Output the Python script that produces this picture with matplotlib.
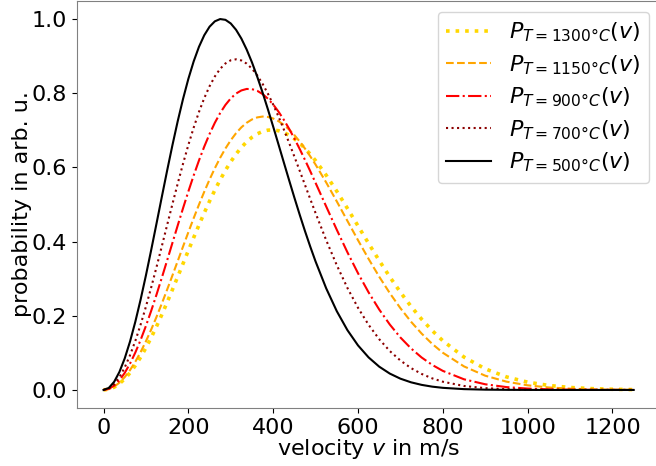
import matplotlib
matplotlib.use('Agg')
import matplotlib.pyplot as plt

# velocity grid in m/s (finer steps where the curves bend most)
velocity = [0, 12.5, 25, 37.5, 50, 62.5, 75, 87.5, 100, 112.5, 125, 137.5, 150, 162.5,
            175, 187.5, 200, 212.5, 225, 237.5, 250, 262.5, 275, 287.5, 300, 312.5,
            325, 337.5, 350, 362.5, 375, 387.5, 400, 412.5, 425, 437.5, 450, 462.5,
            475, 487.5, 500, 525, 550, 575, 600, 625, 650, 675, 700, 725, 750, 775,
            800, 850, 900, 950, 1000, 1050, 1100, 1150, 1200, 1250]

# probability (arb. u.), one list per oven temperature
p_1300 = [0.0, 0.0019, 0.0075, 0.0169, 0.0298, 0.0462, 0.0658, 0.0883, 0.1137, 0.1415,
          0.1714, 0.2031, 0.2363, 0.2705, 0.3054, 0.3406, 0.3758, 0.4105, 0.4445, 0.4774,
          0.5089, 0.5387, 0.5665, 0.5921, 0.6152, 0.6359, 0.6538, 0.6689, 0.6811, 0.6904,
          0.6968, 0.7003, 0.7009, 0.6988, 0.6940, 0.6867, 0.6770, 0.6652, 0.6512, 0.6354,
          0.6180, 0.5789, 0.5356, 0.4895, 0.4422, 0.3949, 0.3488, 0.3047, 0.2634, 0.2253,
          0.1907, 0.1598, 0.1326, 0.0886, 0.0569, 0.0352, 0.0210, 0.0121, 0.0067, 0.0036,
          0.0018, 0.0009]
p_1150 = [0.0, 0.0022, 0.0088, 0.0196, 0.0346, 0.0535, 0.0761, 0.1022, 0.1313, 0.1630,
          0.1971, 0.2331, 0.2705, 0.3088, 0.3477, 0.3866, 0.4252, 0.4629, 0.4994, 0.5343,
          0.5672, 0.5978, 0.6258, 0.6510, 0.6732, 0.6922, 0.7079, 0.7202, 0.7292, 0.7347,
          0.7370, 0.7359, 0.7317, 0.7246, 0.7146, 0.7020, 0.6870, 0.6698, 0.6506, 0.6297,
          0.6074, 0.5593, 0.5082, 0.4558, 0.4037, 0.3532, 0.3053, 0.2609, 0.2204, 0.1840,
          0.1520, 0.1241, 0.1003, 0.0634, 0.0384, 0.0224, 0.0125, 0.0067, 0.0035, 0.0017,
          0.0008, 0.0004]
p_900 = [0.0, 0.0029, 0.0117, 0.0261, 0.0460, 0.0711, 0.1009, 0.1349, 0.1727, 0.2137,
         0.2572, 0.3027, 0.3493, 0.3966, 0.4437, 0.4900, 0.5350, 0.5780, 0.6185, 0.6560,
         0.6900, 0.7203, 0.7465, 0.7685, 0.7860, 0.7990, 0.8074, 0.8114, 0.8109, 0.8063,
         0.7976, 0.7852, 0.7694, 0.7503, 0.7285, 0.7042, 0.6778, 0.6496, 0.6201, 0.5895,
         0.5581, 0.4946, 0.4317, 0.3712, 0.3147, 0.2630, 0.2168, 0.1763, 0.1414, 0.1120,
         0.0875, 0.0675, 0.0514, 0.0287, 0.0153, 0.0077, 0.0037, 0.0017, 0.0008, 0.0003,
         0.0001, 0.0]
p_700 = [0.0, 0.0039, 0.0155, 0.0345, 0.0607, 0.0935, 0.1322, 0.1763, 0.2247, 0.2768,
         0.3314, 0.3877, 0.4447, 0.5013, 0.5567, 0.6100, 0.6604, 0.7070, 0.7493, 0.7867,
         0.8187, 0.8451, 0.8657, 0.8802, 0.8887, 0.8913, 0.8882, 0.8797, 0.8661, 0.8478,
         0.8252, 0.7989, 0.7693, 0.7371, 0.7026, 0.6664, 0.6290, 0.5910, 0.5526, 0.5144,
         0.4766, 0.4037, 0.3362, 0.2751, 0.2215, 0.1755, 0.1368, 0.1049, 0.0793, 0.0589,
         0.0432, 0.0312, 0.0222, 0.0107, 0.0049, 0.0021, 0.0009, 0.0003, 0.0001, 0.0,
         0.0, 0.0]
p_500 = [0.0, 0.0055, 0.0218, 0.0486, 0.0851, 0.1306, 0.1840, 0.2439, 0.3090, 0.3779,
         0.4490, 0.5207, 0.5915, 0.6600, 0.7248, 0.7846, 0.8385, 0.8855, 0.9249, 0.9562,
         0.9792, 0.9937, 0.9998, 0.9977, 0.9879, 0.9708, 0.9472, 0.9176, 0.8830, 0.8441,
         0.8018, 0.7567, 0.7099, 0.6620, 0.6137, 0.5657, 0.5184, 0.4725, 0.4282, 0.3861,
         0.3462, 0.2739, 0.2123, 0.1613, 0.1201, 0.0877, 0.0628, 0.0441, 0.0304, 0.0206,
         0.0137, 0.0089, 0.0057, 0.0022, 0.0008, 0.0003, 0.0001, 0.0, 0.0, 0.0,
         0.0, 0.0]

if __name__ == '__main__':
    plt.rcParams['font.size'] = 16
    fig = plt.figure(figsize=(6.56, 4.66), dpi=100)
    ax = fig.add_axes([0.1174, 0.1234, 0.889, 0.8755])

    ax.plot(velocity, p_1300, ':', color='gold', lw=2.6, label=r'$P_{T=1300°C}(v)$')
    ax.plot(velocity, p_1150, '--', color='orange', lw=1.5, label=r'$P_{T=1150°C}(v)$')
    ax.plot(velocity, p_900, '-.', color='red', lw=1.5, label=r'$P_{T=900°C}(v)$')
    ax.plot(velocity, p_700, ':', color='darkred', lw=1.5, label=r'$P_{T=700°C}(v)$')
    ax.plot(velocity, p_500, '-', color='black', lw=1.5, label=r'$P_{T=500°C}(v)$')

    for s in ax.spines.values():
        s.set_color('gray')
    ax.set_xlabel(r'velocity $v$ in m/s', labelpad=-1)
    ax.set_ylabel('probability in arb. u.', labelpad=0)
    ax.legend(loc='upper right', fontsize=16, labelspacing=0.4)
    plt.savefig('out.png', dpi=100)
